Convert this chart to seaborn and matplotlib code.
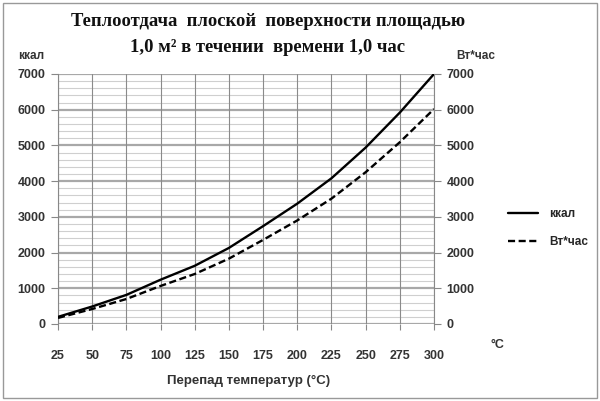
import matplotlib
matplotlib.use("Agg")
import matplotlib.pyplot as plt
import seaborn as sns
import pandas as pd
from matplotlib.patches import Rectangle
from matplotlib.lines import Line2D

temps = [25, 50, 75, 100, 125, 150, 175, 200, 225, 250, 275, 300]
kcal = [200, 490, 815, 1240, 1630, 2130, 2740, 3370, 4080, 4940, 5920, 7000]
wh = [170, 420, 700, 1065, 1400, 1830, 2355, 2900, 3510, 4250, 5090, 6020]
y_ticks = [0, 1000, 2000, 3000, 4000, 5000, 6000, 7000]
title_lines = ["Теплоотдача  плоской  поверхности площадью", "1,0 м² в течении  времени 1,0 час"]
series_names = ["ккал", "Вт*час"]

sns.set_theme(style="white")
plt.rcParams['font.family'] = ['Liberation Sans', 'DejaVu Sans']

df = pd.DataFrame({
    "t": temps * 2,
    "v": kcal + wh,
    "s": [series_names[0]] * len(temps) + [series_names[1]] * len(temps),
})

fig = plt.figure(figsize=(6.0, 4.01), dpi=100)
ax = fig.add_axes([58/600, 77/401, 376/600, 250/401])

# grid
for yv in range(0, 7001, 200):
    if yv % 1000 == 0:
        ax.axhline(yv, color="#a8a8a8", lw=1.6, zorder=0)
    else:
        ax.axhline(yv, color="#cfcfcf", lw=0.8, zorder=0)
for xv in temps:
    ax.axvline(xv, color="#8a8a8a", lw=0.8, zorder=0)

sns.lineplot(data=df, x="t", y="v", hue="s", style="s",
             palette=["black", "black"], dashes=[(None, None), (3, 1.5)],
             linewidth=1.7, ax=ax, legend=False, zorder=3)

ax.set_xlim(25, 300)
ax.set_ylim(0, 7000)
ax.set_xticks(temps)
ax.set_yticks(y_ticks)
for s in ["top", "bottom"]:
    ax.spines[s].set_visible(False)
for s in ["left", "right"]:
    ax.spines[s].set_color("#888888")
    ax.spines[s].set_linewidth(0.8)
ax.tick_params(axis="y", left=True, right=True, labelleft=True, labelright=True,
               length=5, width=0.8, color="#888888", labelsize=9, labelcolor="#333333", pad=4)
ax.tick_params(axis="x", bottom=True, length=4, width=0.8, color="#888888",
               labelsize=9, labelcolor="#333333", pad=15)
for lab in ax.get_xticklabels() + ax.get_yticklabels():
    lab.set_fontweight("bold")
for t in ax.yaxis.get_majorticklabels():
    t.set_fontweight("bold")
ax.set_xlabel("")
ax.set_ylabel("")

fig.text(268/600, 1 - 22/401, title_lines[0], ha="center", va="center",
         family="Liberation Serif", fontweight="bold", fontsize=13.4, color="#111111")
fig.text(268/600, 1 - 47/401, title_lines[1], ha="center", va="center",
         family="Liberation Serif", fontweight="bold", fontsize=13.4, color="#111111")

fig.text(31/600, 1 - 56/401, "ккал", ha="center", va="center", fontsize=8.5,
         fontweight="bold", color="#333333")
fig.text(476/600, 1 - 56/401, "Вт*час", ha="center", va="center", fontsize=8.5,
         fontweight="bold", color="#333333")
fig.text(497/600, 1 - 345/401, "°C", ha="center", va="center", fontsize=9,
         fontweight="bold", color="#333333")
fig.text(249/600, 1 - 381/401, "Перепад температур (°С)", ha="center", va="center",
         fontsize=9.5, fontweight="bold", color="#333333")

handles = [Line2D([0], [0], color="black", lw=1.7),
           Line2D([0], [0], color="black", lw=1.7, dashes=(3, 1.5))]
fig.legend(handles, series_names, loc="center left", bbox_to_anchor=(497/600, 1 - 228/401),
           frameon=False, handlelength=2.6, handletextpad=0.9, labelspacing=1.3,
           prop={"weight": "bold", "size": 8.5})

fig.patches.append(Rectangle((3/600, 3/401), 594/600, 395/401, transform=fig.transFigure,
                             fill=False, edgecolor="#999999", lw=1.0))

fig.savefig("out.png", dpi=100, facecolor="white")
